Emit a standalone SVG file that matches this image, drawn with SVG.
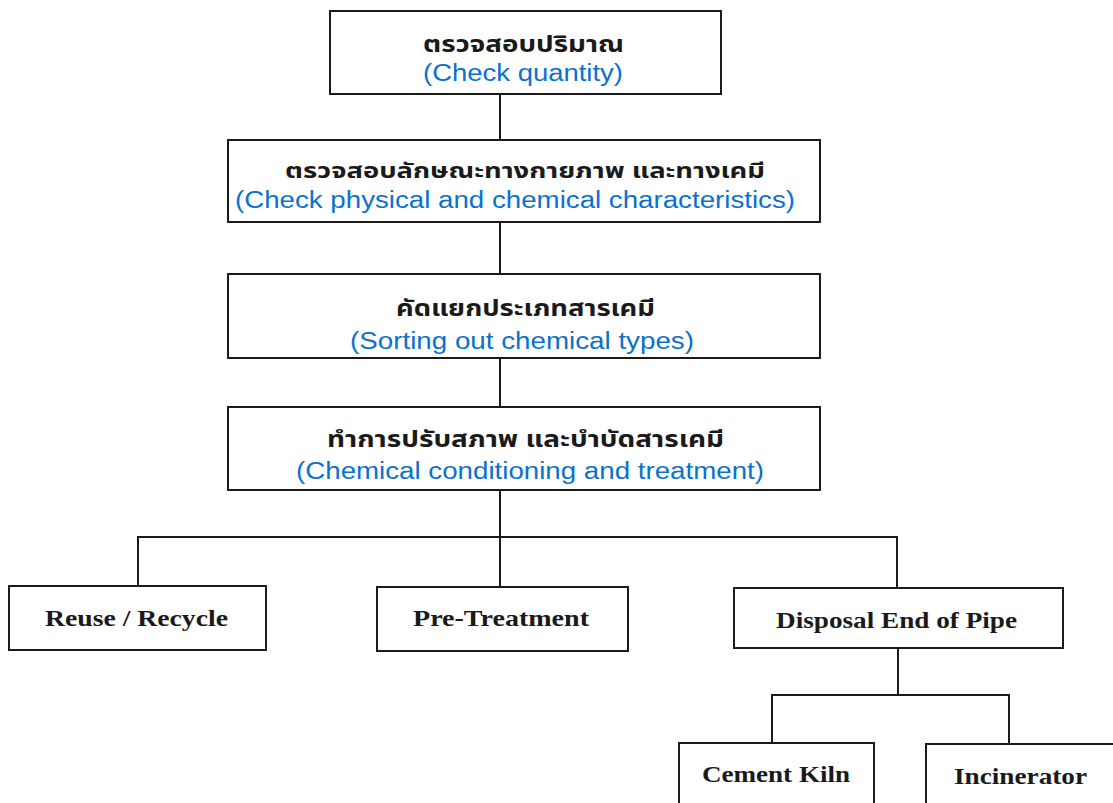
<svg xmlns="http://www.w3.org/2000/svg" width="1113" height="803" viewBox="0 0 1113 803">
  <style>
    .box { fill: #ffffff; stroke: #1a1a1a; stroke-width: 2; }
    .wire { fill: none; stroke: #1a1a1a; stroke-width: 2; }
    .th { font-family: "Noto Sans Thai", "Noto Sans", "DejaVu Sans", sans-serif; font-weight: bold; font-size: 23px; fill: #1a1a1a; text-anchor: start; }
    .en { font-family: "Liberation Sans", Arial, sans-serif; font-size: 23px; fill: #0a72cc; text-anchor: start; }
    .tight { font-size: 21px; }
    .lbl { font-family: "Liberation Serif", "Times New Roman", serif; font-weight: bold; font-size: 24px; fill: #1a1a1a; text-anchor: start; }
  </style>

  <rect width="1113" height="803" fill="#ffffff"/>

  <g id="connectors">
    <line class="wire" x1="500" y1="94" x2="500" y2="140"/>
    <line class="wire" x1="500" y1="222" x2="500" y2="274"/>
    <line class="wire" x1="500" y1="358" x2="500" y2="407"/>
    <line class="wire" x1="500" y1="490" x2="500" y2="587"/>
    <polyline class="wire" points="138,586 138,537 897,537 897,588"/>
    <line class="wire" x1="898" y1="648" x2="898" y2="695"/>
    <polyline class="wire" points="772,743 772,695 1009,695 1009,744"/>
  </g>

  <g id="check-quantity">
    <rect class="box" x="330" y="11" width="391" height="83"/>
    <text class="th" x="423" y="52" textLength="201" lengthAdjust="spacingAndGlyphs">ตรวจสอบปริมาณ</text>
    <text class="en" x="423" y="81" textLength="200" lengthAdjust="spacingAndGlyphs">(Check quantity)</text>
  </g>

  <g id="check-characteristics">
    <rect class="box" x="228" y="140" width="592" height="82"/>
    <text class="th tight" x="285" y="178" textLength="480" lengthAdjust="spacingAndGlyphs">ตรวจสอบลักษณะทางกายภาพ และทางเคมี</text>
    <text class="en" x="235" y="208" textLength="560" lengthAdjust="spacingAndGlyphs">(Check physical and chemical characteristics)</text>
  </g>

  <g id="sorting">
    <rect class="box" x="228" y="274" width="592" height="84"/>
    <text class="th" x="396" y="316" textLength="259" lengthAdjust="spacingAndGlyphs">คัดแยกประเภทสารเคมี</text>
    <text class="en" x="350" y="349" textLength="344" lengthAdjust="spacingAndGlyphs">(Sorting out chemical types)</text>
  </g>

  <g id="conditioning">
    <rect class="box" x="228" y="407" width="592" height="83"/>
    <text class="th" x="327" y="447" textLength="397" lengthAdjust="spacingAndGlyphs">ทำการปรับสภาพ และบำบัดสารเคมี</text>
    <text class="en" x="296" y="479" textLength="468" lengthAdjust="spacingAndGlyphs">(Chemical conditioning and treatment)</text>
  </g>

  <g id="reuse-recycle">
    <rect class="box" x="9" y="586" width="257" height="64"/>
    <text class="lbl" x="45" y="626" textLength="183" lengthAdjust="spacingAndGlyphs">Reuse / Recycle</text>
  </g>

  <g id="pre-treatment">
    <rect class="box" x="377" y="587" width="251" height="64"/>
    <text class="lbl" x="413" y="626" textLength="176" lengthAdjust="spacingAndGlyphs">Pre-Treatment</text>
  </g>

  <g id="disposal">
    <rect class="box" x="734" y="588" width="329" height="60"/>
    <text class="lbl" x="776" y="628" textLength="241" lengthAdjust="spacingAndGlyphs">Disposal End of Pipe</text>
  </g>

  <g id="cement-kiln">
    <rect class="box" x="679" y="743" width="195" height="70"/>
    <text class="lbl" x="702" y="782" textLength="148" lengthAdjust="spacingAndGlyphs">Cement Kiln</text>
  </g>

  <g id="incinerator">
    <rect class="box" x="926" y="744" width="200" height="70"/>
    <text class="lbl" x="954" y="784" textLength="133" lengthAdjust="spacingAndGlyphs">Incinerator</text>
  </g>
</svg>
